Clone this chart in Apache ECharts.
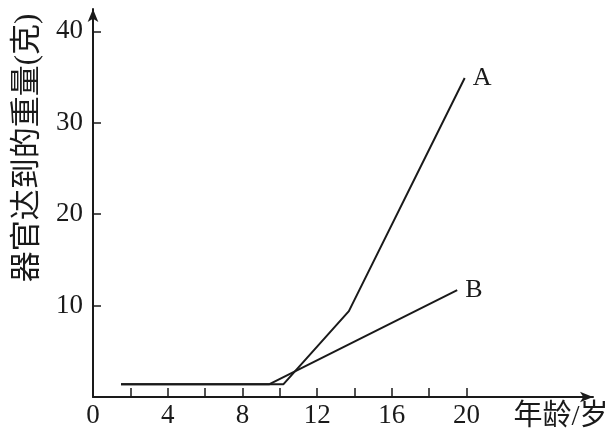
<!DOCTYPE html>
<html>
<head>
<meta charset="utf-8">
<script src="https://cdn.jsdelivr.net/npm/echarts@6/dist/echarts.min.js"></script>
<style>
html,body{margin:0;padding:0;background:#fff;}
#c{width:613px;height:438px;}
</style>
</head>
<body>
<div id="c"></div>
<script>
// Data
const seriesNames = ['A', 'B'];
const aAges = [1.5, 10.2, 13.7, 19.9];
const aWeights = [1.4, 1.4, 9.4, 34.9];
const bAges = [1.5, 9.45, 19.5];
const bWeights = [1.4, 1.4, 11.7];
const xTickValues = [2, 4, 6, 8, 10, 12, 14, 16, 18, 20];
const xLabelValues = [0, 4, 8, 12, 16, 20];
const yTickValues = [10, 20, 30, 40];
const yLabelValues = [10, 20, 30, 40];
const xAxisName = '年龄/岁';
const yAxisName = '器官达到的重量(克)';

const ink = '#1a1a1a';
const serif = '"Liberation Serif", "Noto Sans CJK SC", serif';

const pairs = (xs, ys) => xs.map((x, i) => [x, ys[i]]);

const chart = echarts.init(document.getElementById('c'), null, {renderer: 'canvas'});
chart.setOption({
  backgroundColor: '#fff',
  animation: false,
  grid: {left: 93, right: 20, top: 9, bottom: 41, containLabel: false},
  xAxis: {
    type: 'value', min: 0, max: 26.77,
    splitLine: {show: false},
    axisLine: {show: true, lineStyle: {color: ink, width: 2}, symbol: ['none', 'arrow'], symbolSize: [8, 13]},
    axisTick: {show: true, inside: true, length: 9, lineStyle: {color: ink, width: 1.5}, customValues: xTickValues},
    axisLabel: {customValues: xLabelValues, color: ink, fontFamily: serif, fontSize: 27, margin: 5}
  },
  yAxis: {
    type: 'value', min: 0, max: 42.45,
    splitLine: {show: false},
    axisLine: {show: true, lineStyle: {color: ink, width: 2}, symbol: ['none', 'arrow'], symbolSize: [8, 13]},
    axisTick: {show: true, inside: true, length: 8, lineStyle: {color: ink, width: 1.5}, customValues: yTickValues},
    axisLabel: {customValues: yLabelValues, color: ink, fontFamily: serif, fontSize: 27, margin: 10}
  },
  graphic: [
    {type: 'text', x: 28, y: 148, rotation: Math.PI / 2,
     style: {text: yAxisName, font: '31px ' + serif, fill: ink, align: 'center', verticalAlign: 'middle'}},
    {type: 'text', x: 561, y: 417,
     style: {text: xAxisName, font: '29px ' + serif, fill: ink, align: 'center', verticalAlign: 'middle'}}
  ],
  series: [
    {name: seriesNames[0], type: 'line', data: pairs(aAges, aWeights), showSymbol: false,
     lineStyle: {color: ink, width: 2}, itemStyle: {color: ink},
     endLabel: {show: true, formatter: '{a}', distance: 8, color: ink, fontFamily: serif, fontSize: 26}},
    {name: seriesNames[1], type: 'line', data: pairs(bAges, bWeights), showSymbol: false,
     lineStyle: {color: ink, width: 2}, itemStyle: {color: ink},
     endLabel: {show: true, formatter: '{a}', distance: 8, color: ink, fontFamily: serif, fontSize: 26}}
  ]
});
</script>
</body>
</html>
